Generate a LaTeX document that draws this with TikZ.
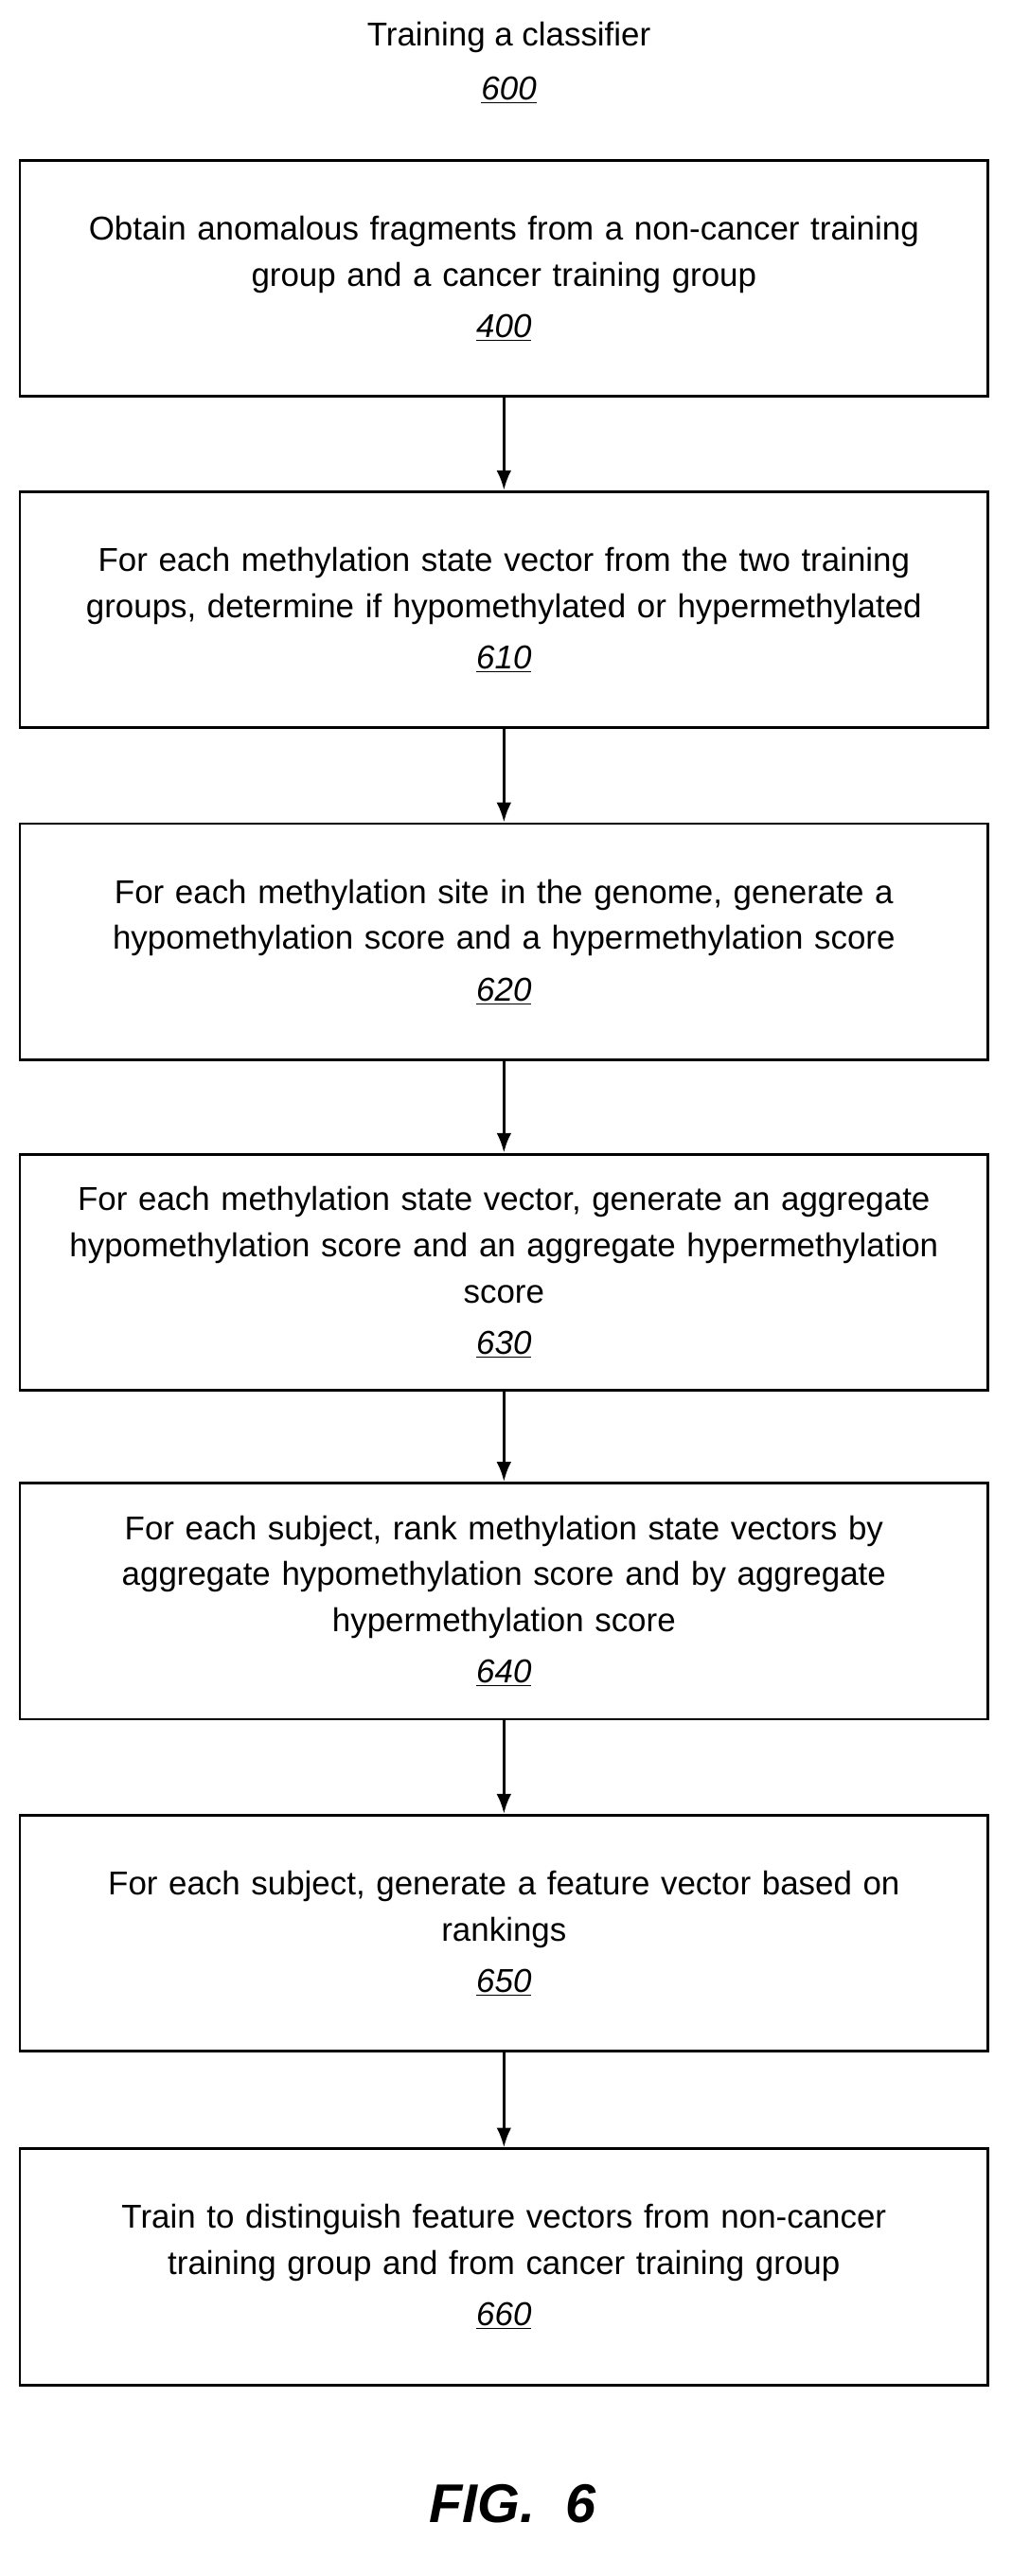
\documentclass[tikz,border=0pt]{standalone}
\usepackage{fontspec}
\setmainfont{Liberation Sans}
\usetikzlibrary{positioning}
\usetikzlibrary{arrows.meta}
\tikzset{stepbox/.style={draw,line width=1.6pt,minimum width=586pt,minimum height=143pt,text width=576pt,align=center,font=\fontsize{20pt}{28pt}\selectfont},
  flow/.style={-{Latex[length=12pt,width=9pt]},line width=1.8pt}}
\newcommand{\refnum}[1]{\underline{\textit{#1}}}
\begin{document}
\begin{tikzpicture}[x=1pt,y=1pt]
\useasboundingbox (0,0) rectangle (612,-1559);
%%
  \node (title) at (308,-38) [align=center,font=\fontsize{20pt}{33pt}\selectfont] {Training a classifier\\\refnum{600}};
  \node (s400) at (305,-168.5) [stepbox] {Obtain anomalous fragments from a non-cancer training\\group and a cancer training group\\[3pt]\refnum{400}};
  \node (s610) at (305,-369) [stepbox] {For each methylation state vector from the two training\\groups, determine if hypomethylated or hypermethylated\\[3pt]\refnum{610}};
  \node (s620) at (305,-570) [stepbox] {For each methylation site in the genome, generate a\\hypomethylation score and a hypermethylation score\\[3pt]\refnum{620}};
  \node (s630) at (305,-770) [stepbox] {For each methylation state vector, generate an aggregate\\hypomethylation score and an aggregate hypermethylation\\score\\[3pt]\refnum{630}};
  \node (s640) at (305,-969) [stepbox] {For each subject, rank methylation state vectors by\\aggregate hypomethylation score and by aggregate\\hypermethylation score\\[3pt]\refnum{640}};
  \node (s650) at (305,-1170) [stepbox] {For each subject, generate a feature vector based on\\rankings\\[3pt]\refnum{650}};
  \node (s660) at (305,-1372) [stepbox] {Train to distinguish feature vectors from non-cancer\\training group and from cancer training group\\[3pt]\refnum{660}};
  \node (fig) at (310,-1515) [font=\fontsize{33pt}{36pt}\selectfont\bfseries\itshape] {FIG.~~6};
  \draw [flow] (s400) -- (s610);
  \draw [flow] (s610) -- (s620);
  \draw [flow] (s620) -- (s630);
  \draw [flow] (s630) -- (s640);
  \draw [flow] (s640) -- (s650);
  \draw [flow] (s650) -- (s660);
%
\end{tikzpicture}
\end{document}
